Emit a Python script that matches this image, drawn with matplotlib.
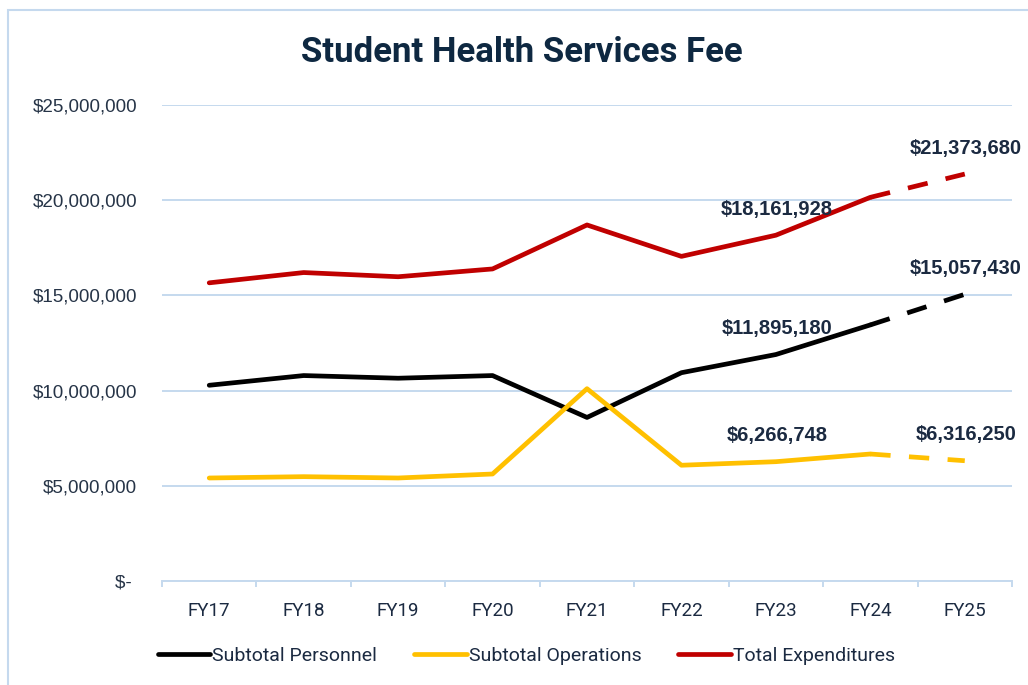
import matplotlib
matplotlib.use('Agg')
import numpy as np
import matplotlib.pyplot as plt
from matplotlib import font_manager
from matplotlib.patches import Rectangle
from matplotlib.ticker import FuncFormatter

# ---- data ----
years = ['FY17', 'FY18', 'FY19', 'FY20', 'FY21', 'FY22', 'FY23', 'FY24', 'FY25']
personnel = [10280000, 10790000, 10650000, 10790000, 8590000, 10940000, 11895180, 13450000, 15057430]
operations = [5410000, 5480000, 5410000, 5620000, 10100000, 6080000, 6266748, 6670000, 6316250]
total = [15660000, 16200000, 15980000, 16390000, 18700000, 17050000, 18161928, 20150000, 21373680]
series_names = ['Subtotal Personnel', 'Subtotal Operations', 'Total Expenditures']
labeled_idx = [6, 8]          # FY23 and FY25 carry value labels
projected_from = 7            # FY24 -> FY25 is dashed
yticks = [0, 5000000, 10000000, 15000000, 20000000, 25000000]

# ---- style ----
names = {f.name for f in font_manager.fontManager.ttflist}
NARROW = 'Liberation Sans Narrow' if 'Liberation Sans Narrow' in names else 'Roboto'
SANS = 'Liberation Sans' if 'Liberation Sans' in names else 'DejaVu Sans'
colors = ['#000000', '#FFC000', '#C00000']
grid_c = '#C5D9EE'
navy = '#0E2841'
text_c = '#1B2A41'
lw = 3.4

fig = plt.figure(figsize=(10.28, 6.85), dpi=100)
ax = fig.add_axes([162 / 1028, 1 - 581 / 685, 850 / 1028, 476 / 685])

x = np.arange(len(years))
handles = []
for vals, col, name in zip([personnel, operations, total], colors, series_names):
    v = np.array(vals, dtype=float)
    h, = ax.plot(x[:projected_from + 1], v[:projected_from + 1], color=col, lw=lw,
                 solid_capstyle='round', solid_joinstyle='round', label=name)
    ax.plot(x[projected_from:], v[projected_from:], color=col, lw=lw,
            linestyle=(0, (4.3, 3.9)), dash_capstyle='butt')
    handles.append(h)
    for i in labeled_idx:
        ax.annotate(f'${vals[i]:,.0f}', (x[i], v[i]), xytext=(1, 26),
                    textcoords='offset pixels', ha='center', va='center',
                    fontsize=14.5, fontweight='bold', family=SANS, color=text_c)

ax.set_xlim(-0.5, len(years) - 0.5)
ax.set_ylim(0, 25000000)
ax.set_yticks(yticks)
ax.yaxis.set_major_formatter(FuncFormatter(lambda v, p: '$- ' if v == 0 else f'${v:,.0f}'))
ax.yaxis.grid(True, color=grid_c, lw=1.4)
ax.set_axisbelow(True)
for s in ['left', 'right', 'top']:
    ax.spines[s].set_visible(False)
ax.spines['bottom'].set_color(grid_c)
ax.spines['bottom'].set_linewidth(1.4)

ax.tick_params(axis='y', length=0, pad=18, labelsize=13.5, labelcolor='#263447')
for lbl in ax.get_yticklabels():
    lbl.set_fontfamily(SANS)

ax.set_xticks(x)
ax.set_xticklabels(years)
ax.set_xticks(np.arange(-0.5, len(years), 1.0), minor=True)
ax.tick_params(axis='x', which='major', length=0, pad=15, labelsize=13.5, labelcolor=text_c)
ax.tick_params(axis='x', which='minor', length=4.5, color=grid_c, width=1.4)
for lbl in ax.get_xticklabels():
    lbl.set_fontfamily(NARROW)

fig.text(0.508, 0.923, 'Student Health Services Fee', ha='center', va='center',
         fontsize=25, fontweight='bold', family=NARROW, color=navy)

leg = fig.legend(handles, series_names, loc='center', bbox_to_anchor=(0.512, 0.042),
                 ncol=3, frameon=False, handlelength=2.7, handletextpad=0.1,
                 columnspacing=1.9, prop={'family': NARROW, 'size': 14})
for t in leg.get_texts():
    t.set_color(text_c)

fig.patches.append(Rectangle((8 / 1028, -0.1), 2, (1 - 10 / 685) + 0.1,
                             transform=fig.transFigure, fill=False,
                             edgecolor=grid_c, lw=1.5))

fig.savefig('out.png', dpi=100)
